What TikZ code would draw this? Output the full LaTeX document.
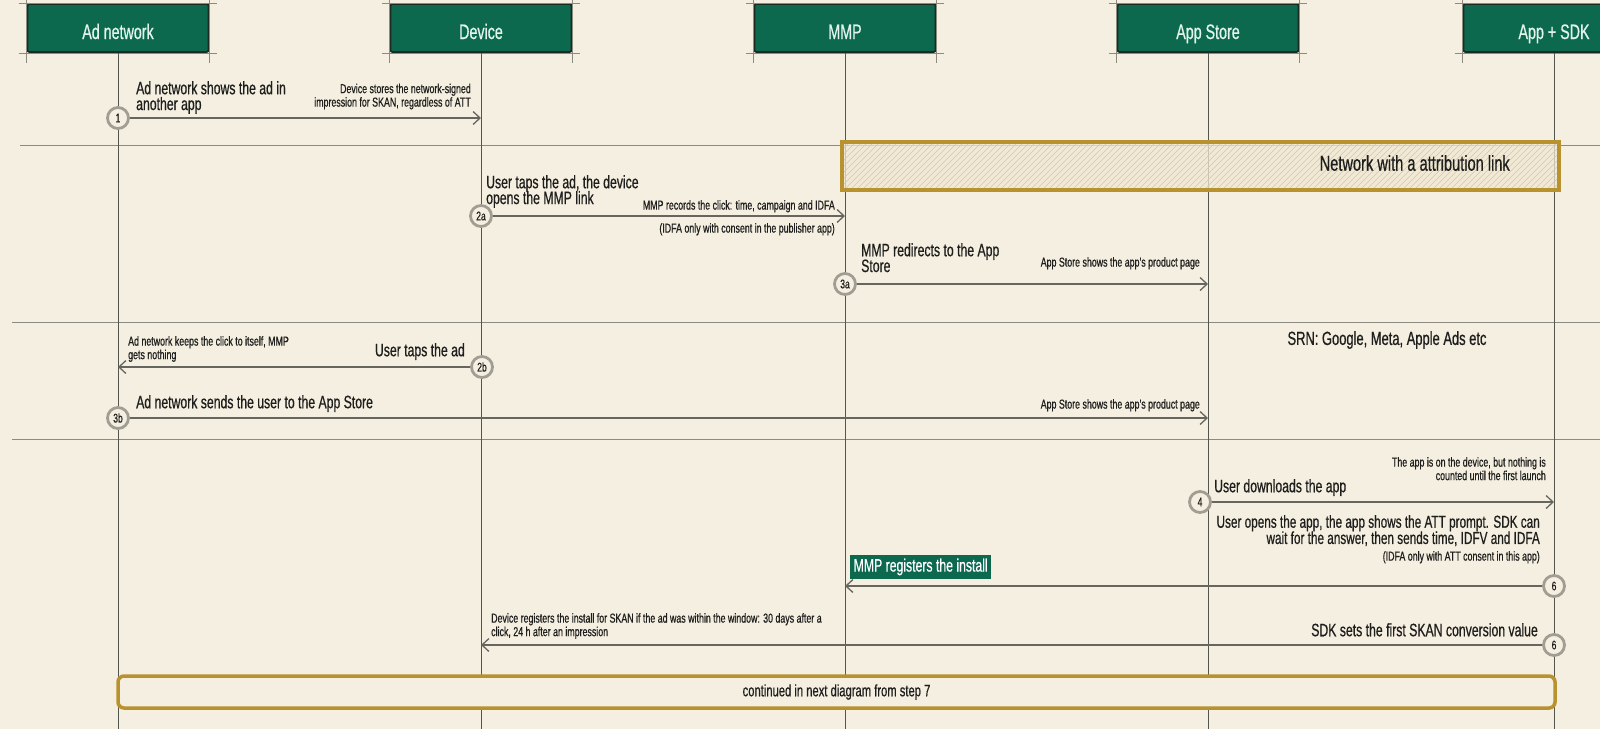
\documentclass[tikz,border=0pt]{standalone}
\usepackage{fontspec}
\setmainfont{Liberation Sans}[FakeStretch=0.68, FakeBold=0.6]
\usetikzlibrary{arrows.meta}
\lineskiplimit=-30pt
\definecolor{bg}{HTML}{F4EFE1}
\definecolor{hdrgreen}{HTML}{0C694E}
\definecolor{hdrborder}{HTML}{1B2A22}
\definecolor{hdrtext}{HTML}{E2F4EC}
\definecolor{gold}{HTML}{B8922F}
\definecolor{hatchfill}{HTML}{F0E8D2}
\definecolor{hatchline}{HTML}{D6C8A2}
\definecolor{lifegray}{HTML}{55554F}
\definecolor{sepgray}{HTML}{8C8B82}
\definecolor{arrowgray}{HTML}{66655E}
\definecolor{ringgray}{HTML}{A19D93}
\definecolor{textdark}{HTML}{1E1E1C}
\tikzset{
  hdr/.style={draw=hdrborder, line width=1.8pt, fill=hdrgreen, text=hdrtext,
    minimum width=181pt, minimum height=48pt, rounded corners=2pt, inner sep=0pt,
    text height=22pt, text depth=0pt,
    font=\fontsize{21}{21}\selectfont},
  cropline/.style={draw=sepgray, line width=0.8pt},
  life/.style={draw=lifegray, line width=1pt},
  sepline/.style={draw=sepgray, line width=1pt},
  msg/.style={draw=arrowgray, line width=1.7pt,
    -{Straight Barb[length=7pt,width=13pt,line width=1.3pt]}},
  stepc/.style={circle, draw=ringgray, line width=2.8pt, fill=bg, minimum size=21pt,
    inner sep=0pt, text=textdark, font=\fontsize{12.5}{12.5}\selectfont},
  big/.style={inner sep=0pt, text=textdark, font=\fontsize{18}{15.8}\selectfont},
  small/.style={inner sep=0pt, text=textdark, font=\fontsize{13}{13.5}\selectfont},
  goldbox/.style={draw=gold, line width=3.5pt},
  greenlabel/.style={fill=hdrgreen, text=white, inner sep=3.5pt,
    font=\fontsize{18}{18}\selectfont},
}
\begin{document}
\begin{tikzpicture}[x=1pt,y=-1pt]
\useasboundingbox (0,0) rectangle (1600,729);
\clip (0,0) rectangle (1600,729);
\fill[bg] (0,0) rectangle (1600,729);
\coordinate (bot) at (0,729);

% separators
\draw[sepline] (20,145) -- (1600,145);
\draw[sepline] (12,322) -- (1600,322);
\draw[sepline] (12,439) -- (1600,439);

% headers
\node[hdr] (hA) at (118,28) {Ad network};
\node[hdr] (hD) at (481,28) {Device};
\node[hdr] (hM) at (845,28) {MMP};
\node[hdr] (hS) at (1208,28) {App Store};
\node[hdr] (hK) at (1554,28) {App + SDK};
\foreach \h in {hA,hD,hM,hS,hK}{
  \draw[cropline] ([xshift=-8pt]\h.north west) -- ([xshift=8pt]\h.north east);
  \draw[cropline] ([xshift=-8pt]\h.south west) -- ([xshift=8pt]\h.south east);
  \draw[cropline] ([yshift=6pt]\h.north west) -- ([yshift=-10pt]\h.south west);
  \draw[cropline] ([yshift=6pt]\h.north east) -- ([yshift=-10pt]\h.south east);
}

% lifelines
\foreach \h in {hA,hD,hM,hS,hK}{
  \draw[life] (\h.south) -- (\h.south |- bot);
}

% hatched region
\fill[hatchfill, opacity=0.75] (842,142) rectangle (1559,190);
\begin{scope}
  \clip (842,142) rectangle (1559,190);
  \foreach \i in {790,796,...,1570}{
    \draw[hatchline, line width=0.6pt] ({\i},190) -- ({\i+48},142);
  }
\end{scope}
\node[goldbox, rectangle, inner sep=0pt, minimum width=717pt, minimum height=48pt]
  (netbox) at (1200.5,166) {};
\node[inner sep=0pt, anchor=east, text=textdark, font=\fontsize{21.5}{21.5}\selectfont]
  (netlbl) at (1510,163) {Network with a attribution link};

% step 1
\node[stepc] (s1) at (118,118) {1};
\coordinate (e1) at (481,118);
\draw[msg] (s1) -- (e1);
\node[big, anchor=north west, align=left] (t1a) at (136,81)
  {Ad network shows the ad in\\another app};
\node[small, anchor=north east, align=right] (t1b) at (471,83.5)
  {Device stores the network-signed\\impression for SKAN, regardless of ATT};

% step 2a
\node[stepc] (s2a) at (481,216) {2a};
\coordinate (e2a) at (845,216);
\draw[msg] (s2a) -- (e2a);
\node[big, anchor=north west, align=left] (t2a) at (486,175)
  {User taps the ad, the device\\opens the MMP link};
\node[small, anchor=north east] (t2b) at (835,200)
  {MMP records the click: time, campaign and IDFA};
\node[small, anchor=north east] (t2c) at (835,223)
  {(IDFA only with consent in the publisher app)};

% step 3a
\node[stepc] (s3a) at (845,284) {3a};
\coordinate (e3a) at (1208,284);
\draw[msg] (s3a) -- (e3a);
\node[big, anchor=north west, align=left] (t3a) at (861,243)
  {MMP redirects to the App\\Store};
\node[small, anchor=north east] (t3b) at (1200,257)
  {App Store shows the app's product page};

% step 2b
\node[stepc] (s2b) at (482,367) {2b};
\coordinate (e2b) at (118,367);
\draw[msg] (s2b) -- (e2b);
\node[small, anchor=north west, align=left] (t2d) at (128,336)
  {Ad network keeps the click to itself, MMP\\gets nothing};
\node[big, anchor=north east] (t2e) at (465,343) {User taps the ad};
\node[inner sep=0pt, text=textdark, font=\fontsize{19}{19}\selectfont] (srn)
  at (1387,340) {SRN: Google, Meta, Apple Ads etc};

% step 3b
\node[stepc] (s3b) at (118,418) {3b};
\coordinate (e3b) at (1208,418);
\draw[msg] (s3b) -- (e3b);
\node[big, anchor=north west] (t3c) at (136,395)
  {Ad network sends the user to the App Store};
\node[small, anchor=north east] (t3d) at (1200,399)
  {App Store shows the app's product page};

% step 4
\node[stepc] (s4) at (1200,502) {4};
\coordinate (e4) at (1554,502);
\draw[msg] (s4) -- (e4);
\node[big, anchor=north west] (t4a) at (1214,479) {User downloads the app};
\node[small, anchor=north east, align=right] (t4b) at (1546,457)
  {The app is on the device, but nothing is\\counted until the first launch};
\node[big, anchor=north east, align=right, font=\fontsize{17.3}{16.2}\selectfont] (t4c) at (1540,515)
  {User opens the app, the app shows the ATT prompt. SDK can\\wait for the answer, then sends time, IDFV and IDFA};
\node[small, anchor=north east] (t4d) at (1540,551)
  {(IDFA only with ATT consent in this app)};

% step 6 (MMP)
\node[stepc] (s6a) at (1554,586) {6};
\coordinate (e6a) at (845,586);
\draw[msg] (s6a) -- (e6a);
\node[greenlabel, anchor=south west] (t6a) at (850,579) {MMP registers the install};

% step 6 (Device)
\node[stepc] (s6b) at (1554,645) {6};
\coordinate (e6b) at (481,645);
\draw[msg] (s6b) -- (e6b);
\node[small, anchor=north west, align=left] (t6b) at (491,613)
  {Device registers the install for SKAN if the ad was within the window: 30 days after a\\click, 24 h after an impression};
\node[big, anchor=north east] (t6c) at (1538,623)
  {SDK sets the first SKAN conversion value};

% continuation box
\node[goldbox, rounded corners=6pt, fill=bg, minimum width=1437pt, minimum height=32pt,
  inner sep=0pt, text=textdark, font=\fontsize{16.5}{16.5}\selectfont] (cont) at (836.5,692)
  {continued in next diagram from step 7};
\end{tikzpicture}
\end{document}
